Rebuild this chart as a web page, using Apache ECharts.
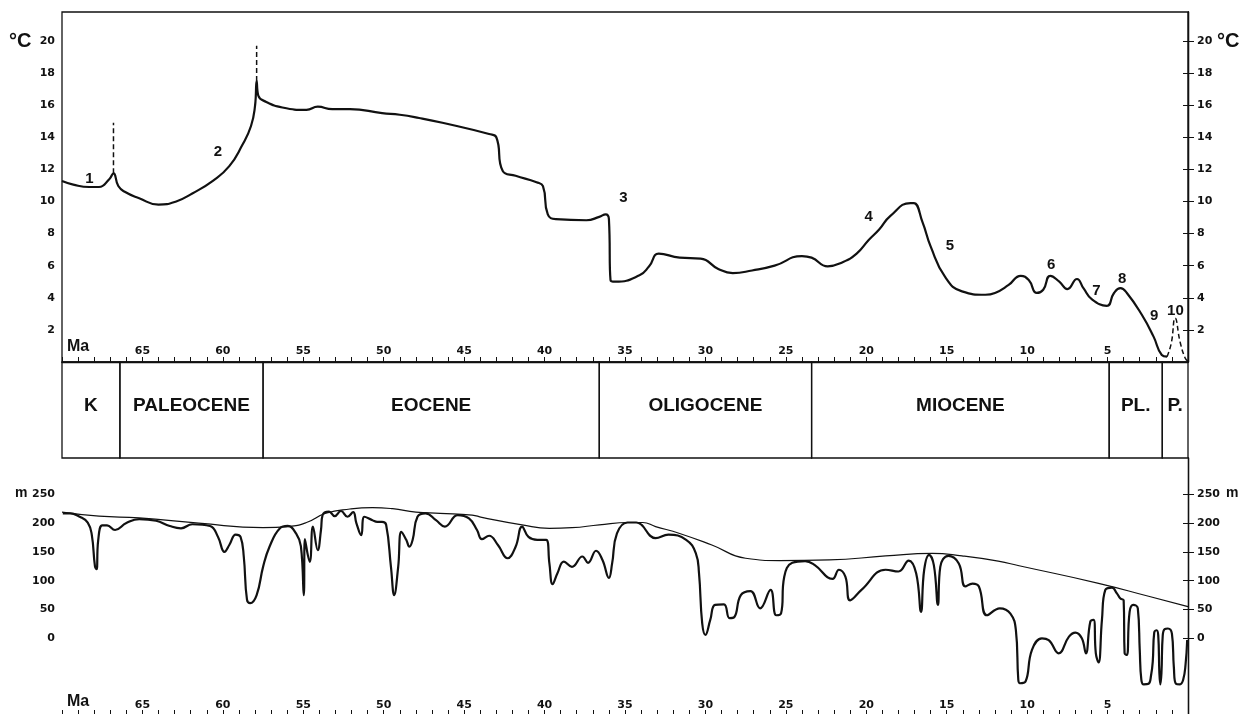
<!DOCTYPE html>
<html>
<head>
<meta charset="utf-8">
<title>Temperature and sea level, 70 Ma to present</title>
<script src="https://cdn.jsdelivr.net/npm/echarts@6/dist/echarts.min.js"></script>
<style>
  html, body { margin: 0; padding: 0; background: #fff; }
  #chart { width: 1240px; height: 714px; }
</style>
</head>
<body>
<div id="chart"></div>
<script>
// temperature curve [Ma, °C]
const tempCurve = [
  [70.0, 11.27], [69.3, 11.05], [68.3, 10.9], [67.7, 10.9], [67.05, 11.4], [66.8, 11.75],
  [66.5, 10.96], [66.1, 10.6], [65.2, 10.2], [64.0, 9.8], [62.9, 10.0], [61.9, 10.5],
  [60.6, 11.3], [59.6, 12.2], [58.8, 13.5], [58.25, 14.7], [58.0, 15.95], [57.9, 17.5],
  [57.8, 16.6], [57.3, 16.2], [56.3, 15.85], [54.8, 15.7], [54.1, 15.9], [53.2, 15.75],
  [52.1, 15.75], [50.1, 15.5], [49.0, 15.4], [47.8, 15.2], [46.35, 14.9], [43.45, 14.2],
  [43.0, 14.0], [42.6, 11.9], [41.8, 11.6], [40.5, 11.2], [40.1, 10.95], [39.8, 9.2],
  [39.3, 8.9], [37.4, 8.83], [36.6, 9.04], [36.2, 9.2], [36.0, 8.9], [35.9, 5.1],
  [35.6, 5.0], [34.1, 5.4], [33.5, 5.96], [32.9, 6.75], [31.6, 6.5], [30.3, 6.44],
  [29.2, 5.8], [28.3, 5.54], [27.1, 5.7], [25.7, 6.0], [24.0, 6.6], [23.4, 6.5],
  [22.4, 5.96], [21.5, 6.2], [20.6, 6.75], [19.85, 7.6], [19.2, 8.25], [18.5, 9.1],
  [17.25, 9.9], [17.05, 9.9], [16.5, 8.7], [16.0, 7.2], [15.1, 5.3], [14.05, 4.4],
  [12.6, 4.19], [12.0, 4.3], [11.15, 4.8], [10.4, 5.37], [9.9, 5.1], [9.4, 4.3],
  [9.0, 4.5], [8.56, 5.37], [8.0, 5.0], [7.5, 4.54], [6.9, 5.17], [6.5, 4.6],
  [5.97, 3.9], [5.05, 3.5], [4.6, 4.3], [4.2, 4.6], [3.8, 4.3], [2.87, 2.94],
  [2.14, 1.58], [1.63, 0.44], [1.3, 0.33]
];
// dashed last interglacial bump (event 10)
const tempDashed = [[1.3, 0.33], [1.04, 1.17], [0.8, 2.73], [0.48, 1.2], [0.17, 0.23], [0.0, 0.05]];
// dashed spikes [Ma, from °C, to °C]
const tempSpikes = [[66.8, 11.75, 14.9], [57.9, 17.5, 19.7]];
// numbered events [Ma, °C, label]
const tempNotes = [
  [68.3, 11.4, '1'], [60.3, 13.1, '2'], [35.1, 10.2, '3'], [19.85, 9.06, '4'], [14.8, 7.25, '5'],
  [8.5, 6.06, '6'], [5.7, 4.4, '7'], [4.1, 5.2, '8'], [2.1, 2.9, '9'], [0.78, 3.2, '10']
];

const epochNames = ['K', 'PALEOCENE', 'EOCENE', 'OLIGOCENE', 'MIOCENE', 'PL.', 'P.'];
const epochBounds = [70, 66.4, 57.5, 36.6, 23.4, 4.9, 1.6, 0];

// sea level, short-term curve [Ma, m]
const seaLevel = [
  [69.95, 217], [69.5, 217], [68.9, 211], [68.4, 201], [68.15, 180], [67.95, 125], [67.85, 120],
  [67.75, 170], [67.5, 196], [67.2, 196], [66.7, 188], [66.0, 200], [65.2, 207], [64.15, 204],
  [63.3, 195], [62.6, 191], [61.9, 198], [60.8, 195], [60.3, 176], [59.9, 150], [59.6, 162],
  [59.2, 180], [58.9, 176], [58.7, 142], [58.5, 67], [58.3, 61], [57.9, 75], [57.5, 124],
  [57.1, 159], [56.45, 191], [55.97, 195], [55.45, 182], [55.15, 160], [54.97, 75], [54.9, 172],
  [54.6, 133], [54.4, 194], [54.1, 153], [53.9, 188], [53.8, 214], [53.4, 220], [53.05, 212],
  [52.66, 221], [52.25, 211], [51.9, 219], [51.7, 200], [51.4, 179], [51.2, 211], [50.7, 205],
  [50.4, 202], [50.1, 202], [49.85, 197], [49.55, 124], [49.35, 75], [49.1, 124], [48.9, 185],
  [48.6, 171], [48.4, 159], [48.2, 171], [47.9, 211], [47.4, 217], [46.75, 205], [46.2, 194],
  [45.4, 214], [44.7, 208], [44.2, 188], [43.9, 172], [43.45, 178], [42.9, 162], [42.3, 139],
  [41.8, 159], [41.4, 194], [41.0, 176], [40.45, 171], [39.9, 171], [39.7, 130], [39.5, 94],
  [39.2, 113], [38.8, 133], [38.3, 124], [37.65, 142], [37.3, 131], [36.8, 152], [36.4, 136],
  [36.0, 105], [35.8, 130], [35.5, 182], [34.85, 201], [34.3, 201], [33.1, 174], [32.3, 180],
  [31.2, 171], [30.6, 148], [30.4, 113], [30.2, 26], [30.0, 6], [29.7, 32], [29.4, 58],
  [28.85, 59], [28.5, 35], [28.2, 37], [27.8, 75], [27.2, 82], [26.6, 52], [25.95, 84],
  [25.6, 40], [25.3, 43], [25.1, 107], [24.6, 131], [23.8, 134], [23.2, 127], [22.1, 103],
  [21.7, 119], [21.3, 107], [21.0, 66], [20.3, 84], [18.8, 119], [18.0, 116], [17.36, 135],
  [16.9, 113], [16.6, 46], [16.4, 119], [16.1, 145], [15.8, 127], [15.55, 58], [15.4, 124],
  [14.9, 143], [14.25, 130], [13.84, 90], [13.4, 95], [13.0, 90], [12.5, 40], [11.7, 52],
  [11.04, 43], [10.7, 14], [10.55, -72], [10.45, -78], [10.1, -75], [9.7, -20], [9.08, 0],
  [8.66, -3], [8.04, -26], [7.4, 3], [7.0, 10], [6.6, 0], [6.35, -26], [6.07, 29], [5.87, 32],
  [5.73, -26], [5.56, -42], [5.35, 32], [5.14, 84], [4.73, 88], [4.42, 78], [4.2, 69], [4.0, 66],
  [3.94, -26], [3.8, -29], [3.63, 46], [3.4, 58], [3.12, 52], [3.0, -20], [2.9, -72], [2.75, -80],
  [2.45, -79], [2.3, -65], [2.19, -40], [2.1, 10], [1.95, 14], [1.85, 5], [1.78, -60], [1.72, -80],
  [1.65, -60], [1.57, 5], [1.45, 16], [1.25, 17], [1.0, 8], [0.88, -50], [0.75, -79], [0.5, -80],
  [0.3, -72], [0.15, -45], [0.05, -3]
];
// sea level, long-term curve [Ma, m]
const seaLevelTrend = [
  [70, 219], [67.7, 212], [65.2, 209], [61.5, 200], [57.5, 192], [55.9, 194], [54.8, 201],
  [53.6, 217], [52.1, 224.5], [50.7, 227], [49.45, 225], [48.0, 219], [46.5, 217], [44.5, 214],
  [43.9, 210], [41.4, 197], [39.7, 191], [38.3, 192], [36.6, 197], [34.75, 201], [33.9, 201],
  [33.1, 194], [31.6, 182], [29.6, 162], [27.5, 139], [25.4, 135], [22.3, 136], [18.8, 143],
  [15.9, 147.5], [14.05, 143], [11.8, 134], [10.5, 126], [5.56, 95.5], [2.45, 73], [0, 55]
];

const ageLabels = [65, 60, 55, 50, 45, 40, 35, 30, 25, 20, 15, 10, 5];
const tempTicks = [2, 4, 6, 8, 10, 12, 14, 16, 18, 20];
const seaTicks = [0, 50, 100, 150, 200, 250];

const ink = '#111';
const tickFont = { color: ink, fontFamily: 'DejaVu Sans', fontWeight: 'bold', fontSize: 11 };

const chart = echarts.init(document.getElementById('chart'));

// x axis shared settings (Ma, reversed)
const ageAxis = (grid, extra) => Object.assign({
  type: 'value', gridIndex: grid, min: 0, max: 70, inverse: true, interval: 1,
  splitLine: { show: false }
}, extra);

const valueAxis = (grid, pos, min, max, ticks) => ({
  type: 'value', gridIndex: grid, position: pos, min: min, max: max,
  splitLine: { show: false },
  axisLine: { show: true, lineStyle: { color: ink, width: 1.3 } },
  axisTick: { length: pos === 'left' ? 5 : 6, customValues: ticks, lineStyle: { color: ink } },
  axisLabel: Object.assign({ margin: pos === 'left' ? 7 : 9, customValues: ticks }, tickFont)
});

const option = {
  backgroundColor: '#fff',
  animation: false,
  grid: [
    { left: 62, top: 12, width: 1126, height: 350, show: true, borderColor: ink, borderWidth: 1.3 },
    { left: 62, top: 362, width: 1126, height: 96 },
    { left: 62, top: 458, width: 1126, height: 256 },
    { left: 62, top: 699, width: 1126, height: 15 }
  ],
  xAxis: [
    ageAxis(0, {
      axisLine: { lineStyle: { color: ink, width: 1.3 } },
      axisTick: { inside: true, length: 5, lineStyle: { color: ink } },
      axisLabel: Object.assign({ inside: true, margin: 5, customValues: ageLabels }, tickFont)
    }),
    ageAxis(1, { show: false }),
    ageAxis(2, { show: false }),
    ageAxis(3, {
      axisLine: { show: false },
      axisTick: { inside: true, length: 4, lineStyle: { color: ink } },
      axisLabel: Object.assign({ inside: true, margin: 3, customValues: ageLabels }, tickFont)
    })
  ],
  yAxis: [
    valueAxis(0, 'left', 0, 21.8, tempTicks),
    valueAxis(0, 'right', 0, 21.8, tempTicks),
    { type: 'value', gridIndex: 1, min: 0, max: 1, show: false },
    valueAxis(2, 'left', -131.4, 313, seaTicks),
    valueAxis(2, 'right', -131.4, 313, seaTicks),
    { type: 'value', gridIndex: 3, min: 0, max: 1, show: false }
  ],
  series: [
    {
      type: 'line', xAxisIndex: 0, yAxisIndex: 0, data: tempCurve,
      smooth: 0.5, showSymbol: false, silent: true,
      lineStyle: { color: ink, width: 2.2 }
    },
    {
      type: 'line', xAxisIndex: 0, yAxisIndex: 0, data: tempDashed,
      smooth: 0.5, showSymbol: false, silent: true,
      lineStyle: { color: ink, width: 1.5, type: [5, 3] }
    },
    ...tempSpikes.map(s => ({
      type: 'line', xAxisIndex: 0, yAxisIndex: 0, data: [[s[0], s[1]], [s[0], s[2]]],
      showSymbol: false, silent: true,
      lineStyle: { color: ink, width: 1.5, type: [5, 3] }
    })),
    {
      // event numbers
      type: 'custom', xAxisIndex: 0, yAxisIndex: 0, silent: true, data: tempNotes,
      renderItem: (params, api) => {
        const p = api.coord([api.value(0), api.value(1)]);
        return {
          type: 'text', x: p[0], y: p[1],
          style: {
            text: tempNotes[params.dataIndex][2], fill: ink, align: 'center', verticalAlign: 'middle',
            font: 'bold 15px "Liberation Sans"'
          }
        };
      }
    },
    {
      // epoch boxes
      type: 'custom', xAxisIndex: 1, yAxisIndex: 2, silent: true,
      data: epochNames.map((n, i) => [epochBounds[i], epochBounds[i + 1], i]),
      renderItem: (params, api) => {
        const a = api.coord([api.value(0), 1]);
        const b = api.coord([api.value(1), 0]);
        return {
          type: 'group',
          children: [
            {
              type: 'rect',
              shape: { x: a[0], y: a[1], width: b[0] - a[0], height: b[1] - a[1] },
              style: { fill: 'none', stroke: ink, lineWidth: 1.3 }
            },
            {
              type: 'text',
              x: (a[0] + b[0]) / 2, y: (a[1] + b[1]) / 2 - 4,
              style: {
                text: epochNames[api.value(2)], fill: ink, align: 'center', verticalAlign: 'middle',
                font: 'bold 19px "Liberation Sans"'
              }
            }
          ]
        };
      }
    },
    {
      type: 'line', xAxisIndex: 2, yAxisIndex: 3, data: seaLevelTrend,
      smooth: 0.5, showSymbol: false, silent: true,
      lineStyle: { color: ink, width: 1.2 }
    },
    {
      type: 'line', xAxisIndex: 2, yAxisIndex: 3, data: seaLevel,
      smooth: 0.45, showSymbol: false, silent: true,
      lineStyle: { color: ink, width: 2.2 }
    }
  ],
  graphic: [
    { type: 'text', left: 9, top: 31, style: { text: '°C', fill: ink, font: 'bold 20px "Liberation Sans"' } },
    { type: 'text', left: 1217, top: 31, style: { text: '°C', fill: ink, font: 'bold 20px "Liberation Sans"' } },
    { type: 'text', left: 67, top: 339, style: { text: 'Ma', fill: ink, font: 'bold 16px "Liberation Sans"' } },
    { type: 'text', left: 67, top: 694, style: { text: 'Ma', fill: ink, font: 'bold 16px "Liberation Sans"' } },
    { type: 'text', left: 15, top: 486, style: { text: 'm', fill: ink, font: 'bold 14px "Liberation Sans"' } },
    { type: 'text', left: 1226, top: 486, style: { text: 'm', fill: ink, font: 'bold 14px "Liberation Sans"' } }
  ]
};

chart.setOption(option);
</script>
</body>
</html>
